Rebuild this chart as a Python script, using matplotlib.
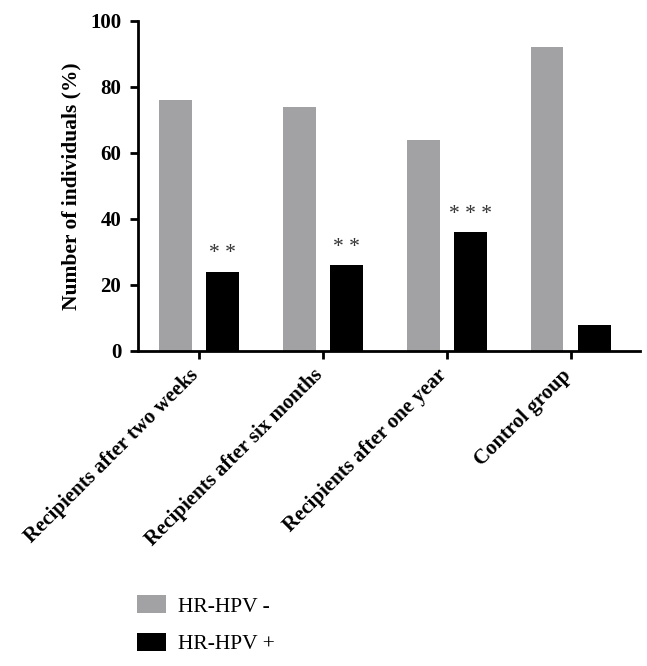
import matplotlib
matplotlib.use("Agg")
import matplotlib.pyplot as plt
from matplotlib.patches import Patch
from matplotlib.transforms import ScaledTranslation
import numpy as np

categories = ["Recipients after two weeks", "Recipients after six months",
              "Recipients after one year", "Control group"]
hpv_neg = [76, 74, 64, 92]
hpv_pos = [24, 26, 36, 8]
signif = ["* *", "* *", "* * *", ""]
series_labels = ["HR-HPV -", "HR-HPV +"]
yticks = [0, 20, 40, 60, 80, 100]

plt.rcParams['font.family'] = ['Liberation Serif', 'DejaVu Serif']

fig = plt.figure(figsize=(6.47, 6.66), dpi=100)
ax = fig.add_axes([138/647, 1-351/666, (640-138)/647, (351-21)/666])

x = np.arange(len(categories))
off = 0.19
w = 0.265
gray = "#a2a2a4"
ax.bar(x - off, hpv_neg, width=w, color=gray)
ax.bar(x + off, hpv_pos, width=w, color="black")
for xi, v, s in zip(x, hpv_pos, signif):
    if s:
        ax.text(xi + off, v + 5.5, s, ha="center", va="center", fontsize=15.5, color="#333333")

ax.set_xlim(-0.49, 3.56)
ax.set_ylim(0, 100)
ax.set_yticks(yticks)
ax.set_yticklabels([str(t) for t in yticks], fontsize=15, fontweight="bold")
ax.set_xticks(x)
ax.set_xticklabels(categories, rotation=45, ha="right", rotation_mode="anchor",
                   fontsize=15, fontweight="bold")
ax.set_ylabel("Number of individuals (%)", fontsize=15.5, fontweight="bold", labelpad=6)
for s in ["top", "right"]:
    ax.spines[s].set_visible(False)
for s in ["left", "bottom"]:
    ax.spines[s].set_linewidth(2)
ax.tick_params(axis="both", width=2, length=6, direction="out")
ax.tick_params(axis="y", pad=6)
ax.tick_params(axis="x", pad=5)

shift = ScaledTranslation(-10/100, 1/100, fig.dpi_scale_trans)
for lab in ax.get_xticklabels():
    lab.set_transform(lab.get_transform() + shift)

handles = [Patch(facecolor=gray, label=series_labels[0]),
           Patch(facecolor="black", label=series_labels[1])]
fig.legend(handles=handles, loc="upper left", bbox_to_anchor=(118/647, 1-576/666),
           frameon=False, fontsize=15.5, handlelength=1.34, handleheight=0.88,
           labelspacing=0.76, handletextpad=0.55)

fig.savefig("out.png", dpi=100)
